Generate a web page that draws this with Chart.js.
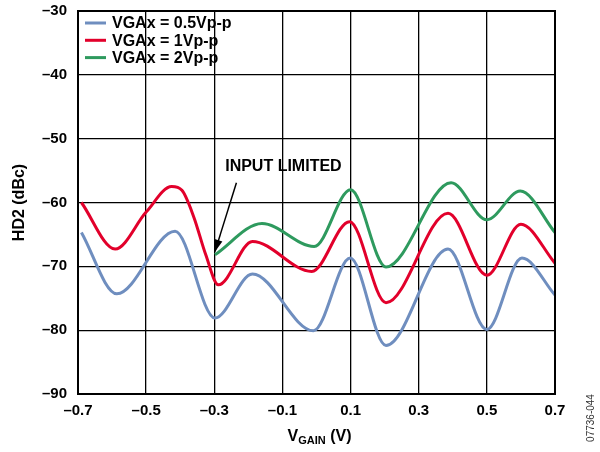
<!DOCTYPE html>
<html>
<head>
<meta charset="utf-8">
<script src="https://cdn.jsdelivr.net/npm/chart.js@4.4.1/dist/chart.umd.min.js"></script>
<style>
  html, body { margin: 0; padding: 0; background: #fff; }
  #wrap { width: 600px; height: 452px; position: relative; }
</style>
</head>
<body>
<div id="wrap"><canvas id="canvas"></canvas></div>
<script>
var xTicks = [-0.7, -0.5, -0.3, -0.1, 0.1, 0.3, 0.5, 0.7];
var yTicks = [-90, -80, -70, -60, -50, -40, -30];

var seriesLabels = ["VGAx = 0.5Vp-p", "VGAx = 1Vp-p", "VGAx = 2Vp-p"];

// 0.5Vp-p
var v05X = [-0.69, -0.586, -0.415, -0.298, -0.188, -0.009, 0.099, 0.204, 0.386, 0.5, 0.603, 0.7];
var v05Y = [-64.7, -74.3, -64.5, -78.1, -71.2, -80.1, -68.7, -82.4, -67.3, -79.9, -68.7, -74.5];

// 1Vp-p
var v1X = [-0.69, -0.591, -0.5, -0.425, -0.395, -0.36, -0.325, -0.288, -0.188, -0.014, 0.097, 0.204, 0.386, 0.5, 0.6, 0.7];
var v1Y = [-60.0, -67.3, -61.5, -57.5, -58.1, -62.3, -68.2, -72.9, -66.1, -70.8, -63.0, -75.7, -61.7, -71.4, -63.4, -69.5];

// 2Vp-p (input limited below -0.3 V)
var v2X = [-0.298, -0.16, -0.007, 0.1, 0.204, 0.395, 0.5, 0.598, 0.7];
var v2Y = [-68.2, -63.3, -66.9, -58.0, -70.1, -56.9, -62.7, -58.2, -64.7];

var colors = ["#6f8ebf", "#e2002b", "#2e9a5e"];

function pts(xs, ys) {
  return xs.map(function (x, i) { return { x: x, y: ys[i] }; });
}

function dash(v) {
  var s = Math.abs(v).toString();
  if (Math.abs(v) < 1 && Math.abs(v) > 0) s = Math.abs(v).toFixed(1);
  return (v < 0 ? "\u2013" : "") + s;
}

var FONT = "'Liberation Sans', Arial, sans-serif";

var overlay = {
  id: "overlay",
  afterDraw: function (chart) {
    var ctx = chart.ctx;
    var xs = chart.scales.x, ys = chart.scales.y;
    var area = chart.chartArea;
    ctx.save();

    // legend inside plot
    ctx.font = "bold 16px " + FONT;
    ctx.textBaseline = "middle";
    ctx.textAlign = "left";
    var lx = area.left + 7, ly = area.top + 12;
    chart.data.datasets.forEach(function (ds, i) {
      var yy = ly + i * 17.3;
      ctx.strokeStyle = ds.borderColor;
      ctx.lineWidth = 3;
      ctx.beginPath();
      ctx.moveTo(lx, yy);
      ctx.lineTo(lx + 21, yy);
      ctx.stroke();
      ctx.fillStyle = "#000";
      ctx.fillText(ds.label, lx + 27, yy + 1);
    });

    // INPUT LIMITED annotation
    ctx.fillStyle = "#000";
    ctx.fillText("INPUT LIMITED", xs.getPixelForValue(-0.268), ys.getPixelForValue(-54.4));
    var tx = xs.getPixelForValue(-0.235), ty = ys.getPixelForValue(-56.9);
    var hx = xs.getPixelForValue(-0.298), hy = ys.getPixelForValue(-67.7);
    ctx.strokeStyle = "#000";
    ctx.lineWidth = 1.5;
    ctx.beginPath();
    ctx.moveTo(tx, ty);
    ctx.lineTo(hx, hy);
    ctx.stroke();
    var ang = Math.atan2(hy - ty, hx - tx);
    ctx.beginPath();
    ctx.moveTo(hx, hy);
    ctx.lineTo(hx - 12 * Math.cos(ang) + 4 * Math.sin(ang), hy - 12 * Math.sin(ang) - 4 * Math.cos(ang));
    ctx.lineTo(hx - 12 * Math.cos(ang) - 4 * Math.sin(ang), hy - 12 * Math.sin(ang) + 4 * Math.cos(ang));
    ctx.closePath();
    ctx.fill();

    // x axis title with subscript
    var cx = (area.left + area.right) / 2 + 3;
    var by = 441;
    ctx.textBaseline = "alphabetic";
    ctx.font = "bold 16px " + FONT;
    var wV = ctx.measureText("V").width;
    var wR = ctx.measureText(" (V)").width;
    ctx.font = "bold 11px " + FONT;
    var wG = ctx.measureText("GAIN").width;
    var x0 = cx - (wV + wG + wR) / 2;
    ctx.font = "bold 16px " + FONT;
    ctx.fillText("V", x0, by);
    ctx.font = "bold 11px " + FONT;
    ctx.fillText("GAIN", x0 + wV, by + 3);
    ctx.font = "bold 16px " + FONT;
    ctx.fillText(" (V)", x0 + wV + wG, by);

    // y axis title
    ctx.save();
    ctx.translate(20, (area.top + area.bottom) / 2);
    ctx.rotate(-Math.PI / 2);
    ctx.textAlign = "center";
    ctx.textBaseline = "middle";
    ctx.fillText("HD2 (dBc)", 0, 0);
    ctx.restore();

    // figure id
    ctx.save();
    ctx.translate(591, 418);
    ctx.rotate(-Math.PI / 2);
    ctx.textAlign = "center";
    ctx.textBaseline = "middle";
    ctx.font = "10px " + FONT;
    ctx.fillStyle = "#333";
    ctx.fillText("07736-044", 0, 0);
    ctx.restore();

    // plot border
    ctx.strokeStyle = "#000";
    ctx.lineWidth = 2;
    ctx.strokeRect(area.left, area.top, area.right - area.left, area.bottom - area.top);
    ctx.restore();
  }
};

var datasets = [[v05X, v05Y], [v1X, v1Y], [v2X, v2Y]].map(function (s, i) {
  return {
    label: seriesLabels[i],
    data: pts(s[0], s[1]),
    borderColor: colors[i],
    backgroundColor: colors[i],
    borderWidth: 3,
    pointRadius: 0,
    fill: false,
    cubicInterpolationMode: "monotone"
  };
});

new Chart(document.getElementById("canvas"), {
  type: "line",
  data: { datasets: datasets },
  options: {
    responsive: true,
    maintainAspectRatio: false,
    animation: false,
    layout: { padding: { left: 0, right: 45, top: 11, bottom: 0 } },
    plugins: { legend: { display: false }, tooltip: { enabled: false } },
    scales: {
      x: {
        type: "linear",
        min: -0.7,
        max: 0.7,
        afterBuildTicks: function (axis) {
          axis.ticks = xTicks.map(function (v) { return { value: v }; });
        },
        afterFit: function (axis) {
          axis.height = 58;
          axis.paddingLeft = 0;
          axis.paddingRight = 0;
        },
        grid: { color: "#000", lineWidth: 1.3, drawTicks: false },
        border: { display: false },
        ticks: {
          padding: 8,
          maxRotation: 0,
          color: "#000",
          font: { family: FONT, size: 15, weight: "bold" },
          callback: function (v) { return dash(v); }
        }
      },
      y: {
        min: -90,
        max: -30,
        afterBuildTicks: function (axis) {
          axis.ticks = yTicks.map(function (v) { return { value: v }; });
        },
        afterFit: function (axis) {
          axis.width = 78;
          axis.paddingTop = 0;
          axis.paddingBottom = 0;
        },
        grid: { color: "#000", lineWidth: 1.3, drawTicks: false },
        border: { display: false },
        ticks: {
          padding: 11,
          color: "#000",
          font: { family: FONT, size: 15, weight: "bold" },
          callback: function (v) { return dash(v); }
        }
      }
    }
  },
  plugins: [overlay]
});
</script>
</body>
</html>
